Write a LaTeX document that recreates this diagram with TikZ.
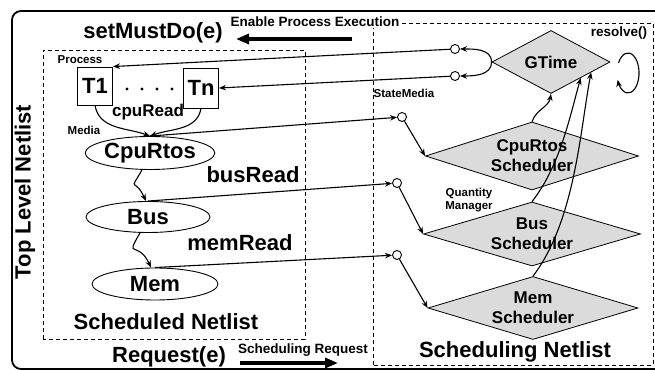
\documentclass[tikz,border=0pt]{standalone}
\usepackage{fontspec}
\setmainfont{Liberation Sans}
\usetikzlibrary{shapes.geometric,arrows.meta,calc}
\def\bigf {\fontsize{22}{25}\selectfont\bfseries}
\def\midf {\fontsize{17}{20}\selectfont\bfseries}
\def\lblf {\fontsize{13.5}{15}\selectfont\bfseries}
\def\smf  {\fontsize{11.5}{13}\selectfont\bfseries}
\tikzset{
  netbox/.style={draw, dashed, dash pattern=on 4pt off 3pt, line width=0.9pt},
  task/.style={draw, line width=0.9pt, inner sep=0pt, minimum width=35, minimum height=38, font=\bigf},
  medium/.style={draw, ellipse, line width=0.9pt, inner sep=0pt, minimum width=126, minimum height=32, font=\bigf},
  sched/.style={draw, diamond, fill=gray!28, line width=0.8pt, aspect=3.2, inner sep=0pt, align=center, font=\midf},
  port/.style={draw, circle, fill=white, line width=0.9pt, inner sep=0pt, minimum size=9},
  arr/.style={-{Stealth[length=7pt,width=5.5pt]}, line width=1.1pt},
  bigarr/.style={-{Triangle[length=13pt,width=10pt]}, line width=3.2pt},
}
\begin{document}
\begin{tikzpicture}[x=1pt,y=1pt]
\useasboundingbox (0,0) rectangle (655,371);
\fill[white] (0,0) rectangle (655,371);

% frame and the two netlists
\draw[line width=1.8pt, rounded corners=9pt] (670,2) -- (12,2) -- (12,360) -- (670,360);
\draw[netbox] (43,32) rectangle (305,321);
\draw[netbox] (373,6) rectangle (653,348);

\node[rotate=90, font=\bigf] (top) at (25,179) {Top Level Netlist};
\node[font=\bigf] (setmd) at (153,338) {setMustDo(e)};
\node[font=\lblf, fill=white, inner sep=1pt] (enable) at (315,349) {Enable Process Execution};
\coordinate (en0) at (352,332);
\coordinate (en1) at (236,332);
\draw[bigarr] (en0) -- (en1);

\node[font=\bigf] (req) at (169,14) {Request(e)};
\node[font=\lblf] (schedreq) at (303,21) {Scheduling Request};
\coordinate (rq0) at (240,8);
\coordinate (rq1) at (338,8);
\draw[bigarr] (rq0) -- (rq1);

% scheduled netlist
\node[font=\smf] (proc) at (80,311) {Process};
\node[task] (T1) at (95,285) {T1};
\node[task, minimum height=40] (Tn) at (201,283) {Tn};
\foreach \i in {0,...,3}
  \fill (127+\i*15,282) circle (1.7);
\node[font=\midf] (cpuread) at (148,259) {cpuRead};
\node[font=\smf] (media) at (84,241) {Media};
\node[medium, minimum width=127, minimum height=33] (cpu) at (150,218) {CpuRtos};
\node[font=\bigf] (busread) at (253,196) {busRead};
\node[medium, minimum width=124, minimum height=31] (bus) at (148,154) {Bus};
\node[font=\bigf] (memread) at (240,128) {memRead};
\node[medium] (mem) at (155,87) {Mem};
\node[font=\bigf] (schedd) at (166,49) {Scheduled Netlist};

% scheduling netlist
\node[sched, aspect=1.9, minimum width=118, minimum height=63] (gtime) at (551,309) {GTime};
\node[font=\lblf] (resolve) at (619,338) {resolve()};
\draw[arr] (618.5,308) arc[x radius=11, y radius=20, start angle=150, end angle=-160];
\node[port] (gc1) at (455,322) {};
\node[port] (gc2) at (455,295) {};
\node[font=\smf] (statemedia) at (404,278) {StateMedia};
\node[port] (smc) at (402,254) {};
\node[port] (busc) at (397,188) {};
\node[port] (memc) at (397,116) {};
\node[sched, minimum width=213, minimum height=68] (cpusched) at (532,215) {CpuRtos\\Scheduler};
\node[font=\smf, align=center] (qm) at (469,171) {Quantity\\Manager};
\node[sched, minimum width=217, minimum height=64] (bussched) at (532,137) {Bus\\Scheduler};
\node[sched, minimum width=210, minimum height=63] (memsched) at (533,63) {Mem\\Scheduler};
\node[font=\bigf] (schedg) at (515,19) {Scheduling Netlist};

% enable paths
\draw[arr] (gtime.west) to[out=90,in=0] (gc1);
\draw[arr] (gtime.west) to[out=-90,in=0] (gc2);
\draw[arr] (gc1) -- (T1.north east);
\draw[arr] (gc2) -- (Tn.east);

% request paths
\draw[arr] (T1.south) to[out=-80,in=160] (cpu.north);
\draw[arr] (Tn.south) to[out=-100,in=20] (cpu.north);
\draw[arr] (cpu.north) -- (smc);
\draw[arr] (smc) -- (cpusched.west);
\draw[arr] ([xshift=-8]cpu.south) to[out=-120,in=115,looseness=2.2] ([xshift=-2]bus.north);
\draw[arr] (bus.north) -- (busc);
\draw[arr] (busc) -- (bussched.west);
\draw[arr] ([xshift=-8]bus.south) to[out=-120,in=115,looseness=2.2] ([xshift=-4]mem.north);
\draw[arr] (mem.north) -- (memc);
\draw[arr] (memc) -- (memsched.west);

\draw[arr] (cpusched.north) to[out=70,in=-100] (gtime.south);
\draw[arr] (bussched.north) .. controls (560,205) and (570,255) .. (gtime.south east);
\draw[arr] (memsched.north) .. controls (575,150) and (580,240) .. ($(gtime.south east)!0.35!(gtime.east)$);
\end{tikzpicture}
\end{document}
